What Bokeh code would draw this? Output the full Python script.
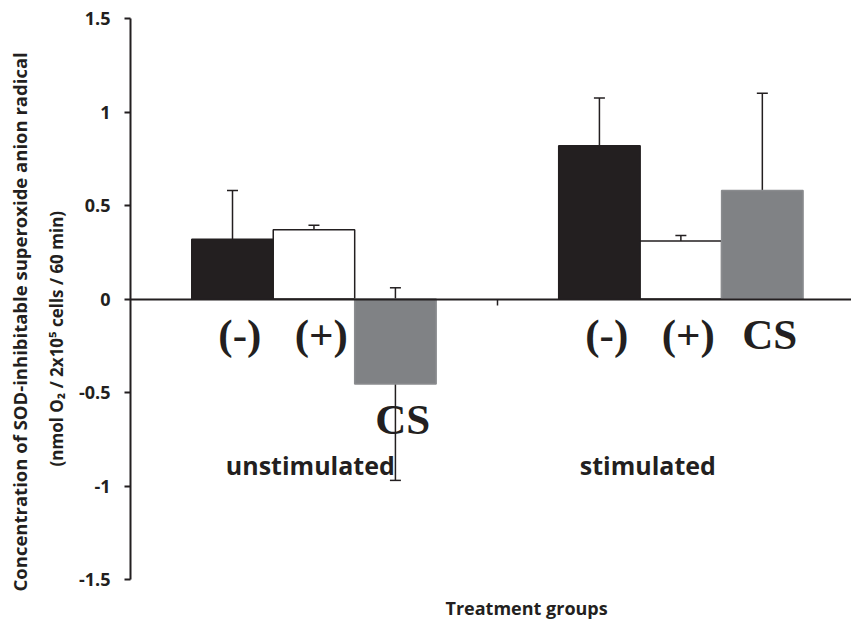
from bokeh.plotting import figure
from bokeh.models import Range1d, Whisker, ColumnDataSource, Title, FixedTicker, TeeHead
from bokeh.core.properties import value
from bokeh.embed import file_html
from bokeh.resources import INLINE

# ---- data ----
groups = ["unstimulated", "stimulated"]
treatments = ["(-)", "(+)", "CS"]
unstim_means = [0.32, 0.37, -0.455]
unstim_errs = [0.26, 0.025, 0.515]
stim_means = [0.82, 0.31, 0.58]
stim_errs = [0.255, 0.03, 0.52]
y_ticks = [-1.5, -1, -0.5, 0, 0.5, 1, 1.5]
y_tick_labels = ["-1.5", "-1", "-0.5", "0", "0.5", "1", "1.5"]
x_title = "Treatment groups"
y_title_1 = "Concentration of SOD-inhibitable superoxide anion radical"
y_title_2 = "(nmol O\u2082 /  2x10\u2075 cells / 60 min)"

# ---- style ----
bar_fill = ["#231f20", "#ffffff", "#808285"]
bar_line = ["#231f20", "#231f20", "#8a8c8f"]
BW = 0.222
INK = "#231f20"

means_by_group = [unstim_means, stim_means]
errs_by_group = [unstim_errs, stim_errs]

xs, tops, uppers, lowers, fills, lines, lab_x, lab_y, lab_t = [], [], [], [], [], [], [], [], []
for gi, g in enumerate(groups):
    for ti, t in enumerate(treatments):
        m = means_by_group[gi][ti]
        e = errs_by_group[gi][ti]
        x = gi + 0.5 + (ti - 1) * BW
        xs.append(x)
        tops.append(m)
        uppers.append(m + e)
        lowers.append(m - e)
        fills.append(bar_fill[ti])
        lines.append(bar_line[ti])
        lab_x.append(x + 0.02)
        lab_y.append(min(0, m) - 0.19)
        lab_t.append(t)

src = ColumnDataSource(dict(x=xs, top=tops, upper=uppers, lower=lowers, fill=fills, line=lines))
lab_src = ColumnDataSource(dict(x=lab_x, y=lab_y, text=lab_t))
grp_offsets = [-0.01, -0.09]
grp_src = ColumnDataSource(dict(x=[i + 0.5 + grp_offsets[i] for i in range(len(groups))],
                                y=[-0.89] * len(groups), text=groups))

p = figure(width=851, height=638, output_backend="svg", toolbar_location=None,
           x_range=Range1d(0, 1.965), y_range=Range1d(-1.5, 1.5),
           min_border_left=130, min_border_right=0, min_border_top=18, min_border_bottom=58)
p.outline_line_color = None
p.grid.visible = False
p.background_fill_color = "white"

p.vbar(x="x", width=BW, top="top", bottom=0, fill_color="fill", line_color="line",
       line_width=1.5, source=src)

w = Whisker(base="x", upper="upper", lower="lower", source=src, line_color=INK, line_width=1.5,
            upper_head=TeeHead(size=11, line_color=INK, line_width=1.5),
            lower_head=TeeHead(size=11, line_color=INK, line_width=1.5))
p.add_layout(w)

p.text(x="x", y="y", text="text", source=lab_src, text_font=value("Liberation Serif"),
       text_font_style="bold", text_font_size="43px", text_align="center",
       text_baseline="middle", text_color=INK)
p.text(x="x", y="y", text="text", source=grp_src, text_font=value("Open Sans"),
       text_font_style="bold", text_font_size="25px", text_align="center",
       text_baseline="middle", text_color=INK)

# y axis
ya = p.yaxis[0]
ya.ticker = FixedTicker(ticks=y_ticks)
ya.major_label_overrides = {t: l for t, l in zip(y_ticks, y_tick_labels)}
ya.minor_tick_line_color = None
ya.axis_line_width = 2
ya.axis_line_color = INK
ya.major_tick_line_color = INK
ya.major_tick_line_width = 2
ya.major_tick_out = 6
ya.major_tick_in = 0
ya.major_label_standoff = 14
ya.major_label_text_font = "Open Sans"
ya.major_label_text_font_style = "bold"
ya.major_label_text_font_size = "18px"
ya.major_label_text_color = INK

# x axis drawn at y = 0
xa = p.xaxis[0]
xa.fixed_location = 0
xa.ticker = FixedTicker(ticks=[1])
xa.minor_tick_line_color = None
xa.axis_line_width = 2
xa.axis_line_color = INK
xa.major_tick_line_color = INK
xa.major_tick_line_width = 1.5
xa.major_tick_out = 6
xa.major_tick_in = 0
xa.major_label_text_font_size = "0px"

# axis titles
p.add_layout(Title(text=y_title_2, align="left", offset=113,
                   text_font="Open Sans", text_font_style="bold", text_font_size="17px",
                   text_color=INK, standoff=16), "left")
p.add_layout(Title(text=y_title_1, align="left",
                   offset=-12, text_font="Open Sans", text_font_style="bold", text_font_size="18.5px",
                   text_color=INK, standoff=6), "left")
p.add_layout(Title(text=x_title, align="left", offset=315, vertical_align="top",
                   text_font="Open Sans", text_font_style="bold", text_font_size="18px",
                   text_color=INK, standoff=33), "below")

open("out.html", "w").write(file_html(p, INLINE))
